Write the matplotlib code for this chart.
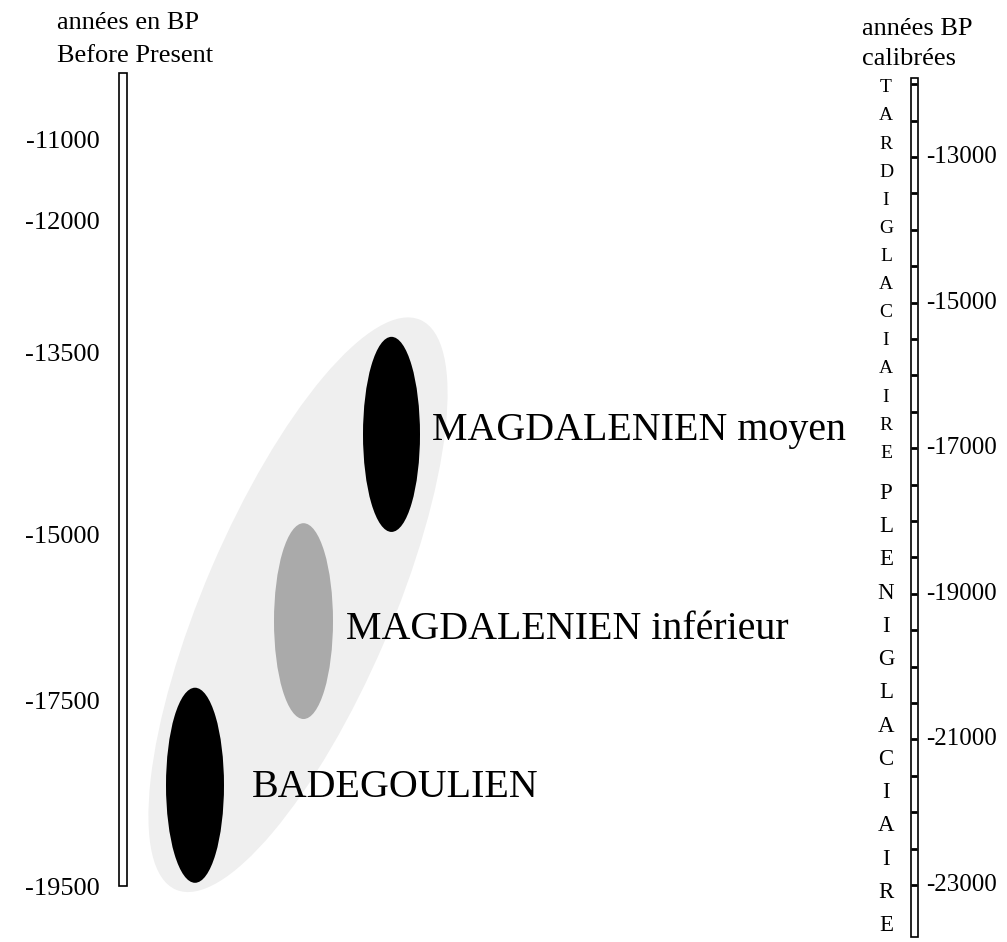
import numpy as np
import matplotlib
matplotlib.use("Agg")
import matplotlib.pyplot as plt
from matplotlib.patches import Ellipse, Rectangle
from matplotlib.transforms import Affine2D

plt.rcParams['font.family'] = ['Liberation Serif', 'DejaVu Serif']

# uncalibrated BP labels (left scale) and their calibrated-year position
left_bp = [-11000, -12000, -13500, -15000, -17500, -19500]
left_cal = [-12790, -13910, -15720, -18220, -20500, -23060]

# calibrated scale (right bar)
cal_ticks = np.arange(-12000, -23001, -500)
cal_labels = [-13000, -15000, -17000, -19000, -21000, -23000]

# cultures: name, start / end in calibrated years
cultures = ["MAGDALENIEN moyen", "MAGDALENIEN inférieur", "BADEGOULIEN"]
cult_start = [-15470, -18030, -20290]
cult_end = [-18150, -20720, -22970]
cult_colors = ["black", "#aaaaaa", "black"]

# climatic phases written vertically along the right bar
phases = ["TARDIGLACIAIRE", "PLENIGLACIAIRE"]

# layout (x in pixel units, y in calibrated years)
cult_x = [391.5, 303.5, 195]
cult_w = [57, 59, 58]
label_x = [432, 346, 252]
label_base = [-16890, -19620, -21790]
phase_span = [(-12050, -17070), (-17620, -23560)]
phase_size = [14, 16.5]

fig = plt.figure(figsize=(10.07, 9.42), dpi=100)
ax = fig.add_axes([0, 0, 1, 1])
ax.set_xlim(0, 1007)
ax.set_ylim(-23783, -10843)
ax.axis('off')

# grey envelope, drawn in pixel-like units then scaled to years
px_per_year = 942 / (23783 - 10843)
env = Ellipse((0, 0), width=620, height=188, angle=66.8, color="#efefef", lw=0)
env.set_transform(Affine2D().scale(1, 1 / px_per_year).translate(298, -19150) + ax.transData)
ax.add_patch(env)

for name, s, e, c, x, w, lx, lb in zip(cultures, cult_start, cult_end, cult_colors,
                                       cult_x, cult_w, label_x, label_base):
    ax.add_patch(Ellipse((x, (s + e) / 2), width=w, height=abs(s - e), color=c, lw=0))
    ax.text(lx, lb, name, fontsize=28.8, ha='left', va='baseline')

# left bar
ax.add_patch(Rectangle((118.5, -23010), 8, 23010 - 11840, fill=False, ec='black', lw=1.2))
for v, y in zip(left_bp, left_cal):
    ax.text(100, y, str(v), fontsize=19, ha='right', va='center')
ax.text(57, -10843 - 29 / px_per_year, "années en BP", fontsize=19, ha='left', va='baseline')
ax.text(57, -10843 - 62 / px_per_year, "Before Present", fontsize=19, ha='left', va='baseline')

# right bar
ax.add_patch(Rectangle((911, -23710), 7, 23710 - 11915, fill=False, ec='black', lw=1.2))
ax.hlines(cal_ticks, 910.5, 917, color='black', lw=2)
for v in cal_labels:
    ax.text(926, v, str(v), fontsize=18, ha='left', va='center')
ax.text(862, -10843 - 35 / px_per_year, "années BP", fontsize=19, ha='left', va='baseline')
ax.text(862, -10843 - 65 / px_per_year, "calibrées", fontsize=19, ha='left', va='baseline')

for word, (top, bot), fs in zip(phases, phase_span, phase_size):
    for letter, y in zip(word, np.linspace(top, bot, len(word))):
        ax.text(886, y, letter, fontsize=fs, ha='center', va='center')

fig.savefig("out.png", dpi=100)
